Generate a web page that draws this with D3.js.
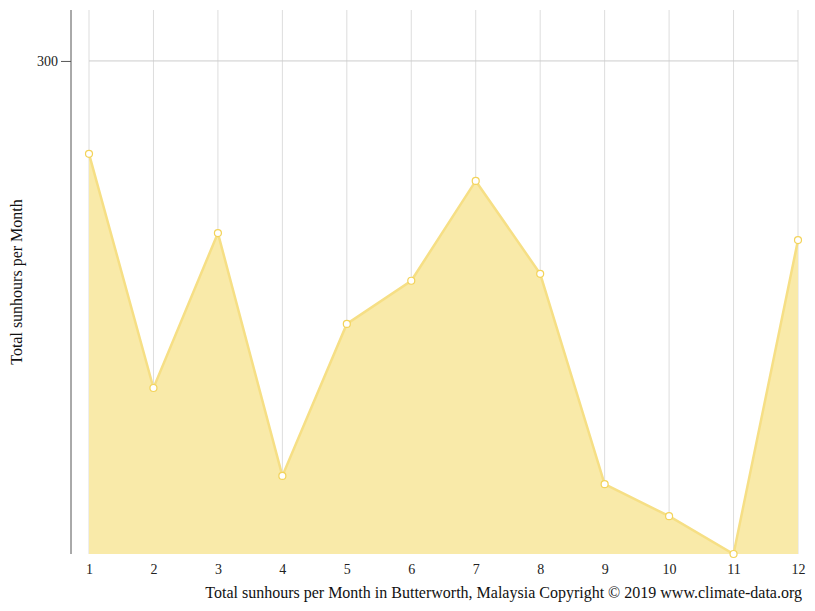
<!DOCTYPE html>
<html><head><meta charset="utf-8">
<script src="https://cdn.jsdelivr.net/npm/d3@7"></script>
<style>body{margin:0;background:#fff}text{font-family:"Liberation Serif",serif}</style>
</head><body><svg id="c" width="815" height="611"></svg>
<script>
const months = [1,2,3,4,5,6,7,8,9,10,11,12];
const sunhours = [277.4,220.4,258.1,199.0,236.0,246.5,270.8,248.2,197.0,189.2,180,256.4];
const yTicks = [300];
const svg = d3.select("#c");
const x = d3.scaleLinear().domain([1,12]).range([89,798]);
const y = d3.scaleLinear().domain([180,312.4]).range([554,10]);
// grid
svg.selectAll(".vg").data(months).enter().append("line")
  .attr("x1",d=>x(d)).attr("x2",d=>x(d)).attr("y1",10).attr("y2",554)
  .attr("stroke","#ddd").attr("stroke-width",1);
svg.selectAll(".hg").data(yTicks).enter().append("line")
  .attr("x1",x(1)).attr("x2",x(12)).attr("y1",d=>y(d)).attr("y2",d=>y(d))
  .attr("stroke","#ccc");
// area
const data = months.map((m,i)=>({m,v:sunhours[i]}));
svg.append("path").datum(data)
  .attr("d",d3.area().x(d=>x(d.m)).y0(y(180)).y1(d=>y(d.v)))
  .attr("fill","#f9eaa9");
svg.append("path").datum(data)
  .attr("d",d3.line().x(d=>x(d.m)).y(d=>y(d.v)))
  .attr("fill","none").attr("stroke","#f6df85").attr("stroke-width",2.5);
svg.selectAll(".pt").data(data).enter().append("circle")
  .attr("cx",d=>x(d.m)).attr("cy",d=>y(d.v)).attr("r",3.5)
  .attr("fill","#fff").attr("stroke","#f3d35a").attr("stroke-width",1.2);
// y axis
svg.append("line").attr("x1",71).attr("x2",71).attr("y1",10).attr("y2",554).attr("stroke","#555");
const ya = svg.append("g").attr("transform","translate(71,0)")
  .call(d3.axisLeft(y).tickValues(yTicks).tickSize(10).tickPadding(3));
ya.select(".domain").remove();
ya.selectAll("line").attr("stroke","#555");
ya.selectAll("text").attr("font-size",14).attr("fill","#222").attr("font-family","Liberation Serif");
// x axis
const xa = svg.append("g").attr("transform","translate(0,554)")
  .call(d3.axisBottom(x).tickValues(months).tickFormat(d3.format("d")).tickSize(0).tickPadding(10));
xa.select(".domain").remove();
xa.selectAll("text").attr("font-size",14).attr("fill","#222").attr("font-family","Liberation Serif");
svg.append("text").attr("transform","translate(22,282) rotate(-90)").attr("text-anchor","middle")
  .attr("font-size",16).attr("fill","#111").text("Total sunhours per Month");
svg.append("text").attr("x",802).attr("y",598).attr("text-anchor","end")
  .attr("font-size",16).attr("fill","#111")
  .text("Total sunhours per Month in Butterworth, Malaysia Copyright © 2019 www.climate-data.org");
</script></body></html>
